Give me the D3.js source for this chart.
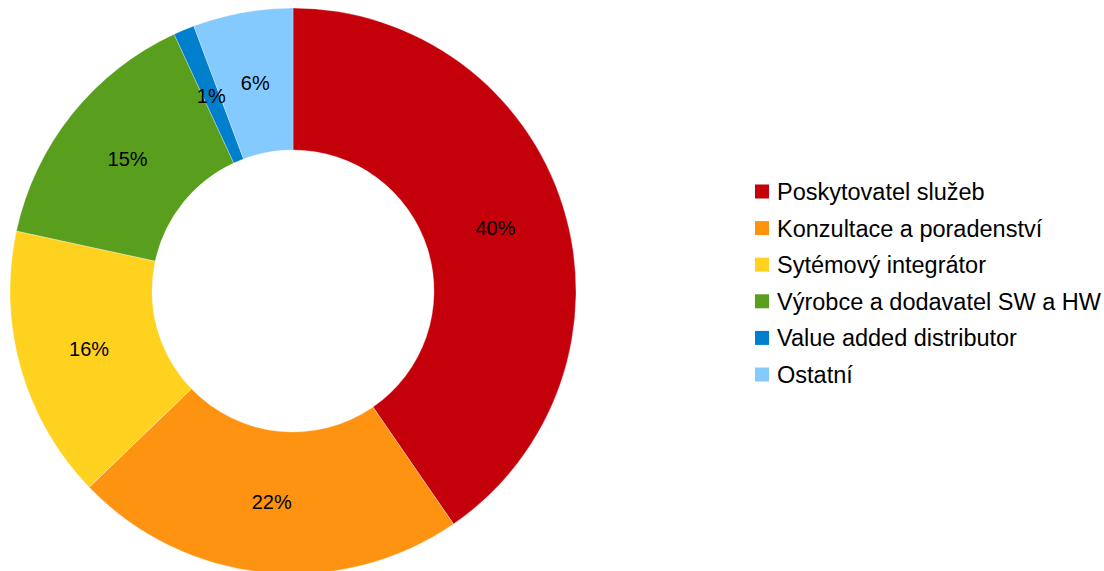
<!DOCTYPE html>
<html>
<head>
<meta charset="utf-8">
<script src="https://cdn.jsdelivr.net/npm/d3@7"></script>
<style>
  body { margin: 0; background: #fff; }
  svg { display: block; font-family: "Liberation Sans", Arial, sans-serif; }
</style>
</head>
<body>
<div id="chart"></div>
<script>
const categories = ["Poskytovatel služeb", "Konzultace a poradenství", "Sytémový integrátor",
  "Výrobce a dodavatel SW a HW", "Value added distributor", "Ostatní"];
const values = [40.4, 22.4, 15.6, 14.7, 1.2, 5.7];
const colors = ["#c4000b", "#fd9310", "#ffd21f", "#5a9e1e", "#0080cc", "#85caff"];

let drawDonut = (locationId) => {
  const width = 1104, height = 571;
  const cx = 293, cy = 291;
  const outerR = 283, innerR = 141;

  const svg = d3.select(locationId)
    .append("svg")
    .attr("width", width)
    .attr("height", height);

  const data = categories.map((c, i) => ({ name: c, value: values[i], color: colors[i] }));

  const pie = d3.pie().sort(null).value((d) => d.value);
  const arc = d3.arc().innerRadius(innerR).outerRadius(outerR);

  const g = svg.append("g").attr("transform", `translate(${cx},${cy})`);

  const arcs = pie(data);

  g.selectAll("path")
    .data(arcs)
    .enter()
    .append("path")
    .attr("d", arc)
    .attr("fill", (d) => d.data.color)
    .attr("stroke", "#fff")
    .attr("stroke-width", 0.3);

  // percentage labels at the centroid of each slice
  g.selectAll("text.lbl")
    .data(arcs)
    .enter()
    .append("text")
    .attr("class", "lbl")
    .attr("transform", (d) => `translate(${arc.centroid(d)})`)
    .attr("text-anchor", "middle")
    .attr("dy", "0.36em")
    .attr("font-size", 20)
    .attr("fill", "#000")
    .text((d) => Math.round(d.data.value) + "%");

  // legend
  const legend = svg.append("g").attr("transform", "translate(755,191.5)");
  const rowH = 36.6;
  const rows = legend.selectAll("g")
    .data(data)
    .enter()
    .append("g")
    .attr("transform", (d, i) => `translate(0,${i * rowH})`);

  rows.append("rect")
    .attr("x", 0)
    .attr("y", -7)
    .attr("width", 14)
    .attr("height", 14)
    .attr("fill", (d) => d.color);

  rows.append("text")
    .attr("x", 22)
    .attr("dy", "0.36em")
    .attr("font-size", 23.5)
    .attr("fill", "#000")
    .text((d) => d.name);
};

drawDonut("#chart");
</script>
</body>
</html>
